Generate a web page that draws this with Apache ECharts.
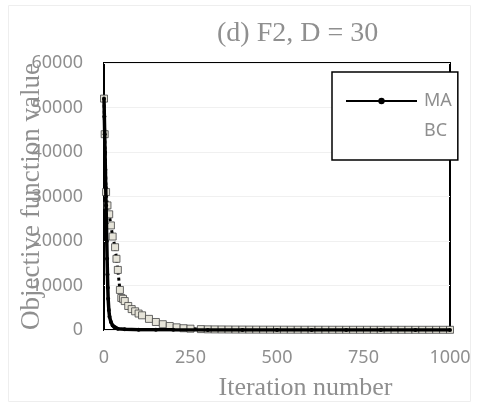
<!DOCTYPE html>
<html>
<head>
<meta charset="utf-8">
<script src="https://cdn.jsdelivr.net/npm/echarts@6/dist/echarts.min.js"></script>
<style>
  html, body { margin: 0; padding: 0; background: #fff; }
  #main { width: 480px; height: 413px; }
</style>
</head>
<body>
<div id="main"></div>
<script>
// MA convergence curve (iteration, objective value)
var maIter  = [0, 1, 2, 3, 4, 5, 6, 7, 8, 9, 10, 11, 12, 14, 16, 20, 25, 30, 40, 60, 100, 150, 200, 300, 400, 500, 600, 700, 800, 900, 1000];
var maValue = [52000, 48000, 44000, 40000, 36000, 32000, 28000, 24000, 20000, 16000, 12500, 9500, 7000, 4500, 3000, 1800, 1000, 600, 300, 150, 80, 50, 30, 20, 15, 10, 8, 6, 5, 4, 3];

// BC convergence curve
var bcIter  = [0, 2, 6, 10, 15, 20, 25, 32, 36, 40, 46, 50, 55, 60, 70, 80, 90, 100, 110, 130, 150, 170, 190, 210, 230, 250, 280,
  300, 320, 340, 360, 380, 400, 420, 440, 460, 480, 500, 520, 540, 560, 580, 600, 620, 640, 660, 680, 700,
  720, 740, 760, 780, 800, 820, 840, 860, 880, 900, 920, 940, 960, 980, 1000];
var bcValue = [52000, 44000, 31000, 28000, 26000, 23500, 21000, 18600, 16000, 13500, 9000, 7200, 7000, 6500, 5400, 4700, 4200, 3700, 3300, 2500, 1800, 1300, 900, 600, 400, 300, 200,
  150, 130, 120, 110, 100, 95, 90, 85, 80, 78, 75, 72, 70, 68, 66, 64, 62, 60, 58, 57, 56,
  55, 54, 53, 52, 51, 50, 50, 49, 49, 48, 48, 47, 47, 46, 46];

var yTicks = [0, 10000, 20000, 30000, 40000, 50000, 60000];
var xTicks = [0, 250, 500, 750, 1000];

var grey = '#8f8f8f';
var serif = '"Liberation Serif", "DejaVu Serif", serif';
var sans = '"Noto Sans", "Liberation Sans", sans-serif';

function pairs(xs, ys) {
  return xs.map(function (x, i) { return [x, ys[i]]; });
}

var chart = echarts.init(document.getElementById('main'));
chart.setOption({
  animation: false,
  backgroundColor: '#fff',
  title: {
    text: '(d) F2, D = 30',
    left: 212,
    top: 15,
    textStyle: { fontFamily: serif, fontWeight: 'normal', fontSize: 28, color: grey }
  },
  graphic: [{
    type: 'rect',
    shape: { x: 8.5, y: 5.5, width: 462, height: 396 },
    style: { fill: 'none', stroke: '#eeeeee', lineWidth: 1 },
    silent: true
  }],
  legend: {
    orient: 'vertical',
    left: 332,
    top: 72,
    padding: [20, 6, 20, 13],
    itemWidth: 71,
    itemHeight: 8,
    itemGap: 12,
    borderColor: '#000',
    borderWidth: 1.5,
    backgroundColor: '#fff',
    textStyle: { fontFamily: sans, fontSize: 18, lineHeight: 18, color: grey, padding: [0, 0, 0, 2] },
    data: [
      { name: 'MA' },
      { name: 'BC', itemStyle: { opacity: 0 }, lineStyle: { opacity: 0 } }
    ]
  },
  grid: {
    left: 104, right: 30, top: 63, bottom: 83,
    outerBoundsMode: 'none',
    containLabel: false,
    show: true, borderColor: '#000', borderWidth: 2
  },
  xAxis: {
    type: 'value',
    min: 0, max: 1000, interval: 250,
    name: 'Iteration number',
    nameLocation: 'middle',
    nameGap: 45,
    nameMoveOverlap: false,
    nameTextStyle: { fontFamily: serif, fontSize: 26, color: grey, padding: [0, 0, 0, 57] },
    axisLine: { show: false },
    axisTick: { show: false },
    splitLine: { show: false },
    axisLabel: {
      margin: 19, fontFamily: sans, fontSize: 18, color: grey,
      formatter: function (v) { return xTicks.indexOf(v) >= 0 ? String(v) : ''; }
    }
  },
  yAxis: {
    type: 'value',
    min: 0, max: 60000, interval: 10000,
    name: 'Objective function value',
    nameLocation: 'middle',
    nameGap: 59,
    nameMoveOverlap: false,
    nameTextStyle: { fontFamily: serif, fontSize: 27, color: grey },
    axisLine: { show: false },
    axisTick: { show: false },
    splitLine: { lineStyle: { color: '#f0f0f0', width: 1 } },
    axisLabel: {
      margin: 21, fontFamily: sans, fontSize: 18, color: grey,
      formatter: function (v) { return yTicks.indexOf(v) >= 0 ? String(v) : ''; }
    }
  },
  series: [
    {
      name: 'BC',
      type: 'line',
      data: pairs(bcIter, bcValue),
      showAllSymbol: true,
      symbol: 'rect',
      symbolSize: 7,
      itemStyle: { color: '#e6e4d9', borderColor: '#444', borderWidth: 0.8 },
      lineStyle: { color: '#000', width: 3, type: 'dotted' },
      z: 2
    },
    {
      name: 'MA',
      type: 'line',
      data: pairs(maIter, maValue),
      showAllSymbol: true,
      symbol: 'circle',
      symbolSize: 4,
      itemStyle: { color: '#000' },
      lineStyle: { color: '#000', width: 3.5 },
      z: 3
    }
  ]
});
</script>
</body>
</html>
